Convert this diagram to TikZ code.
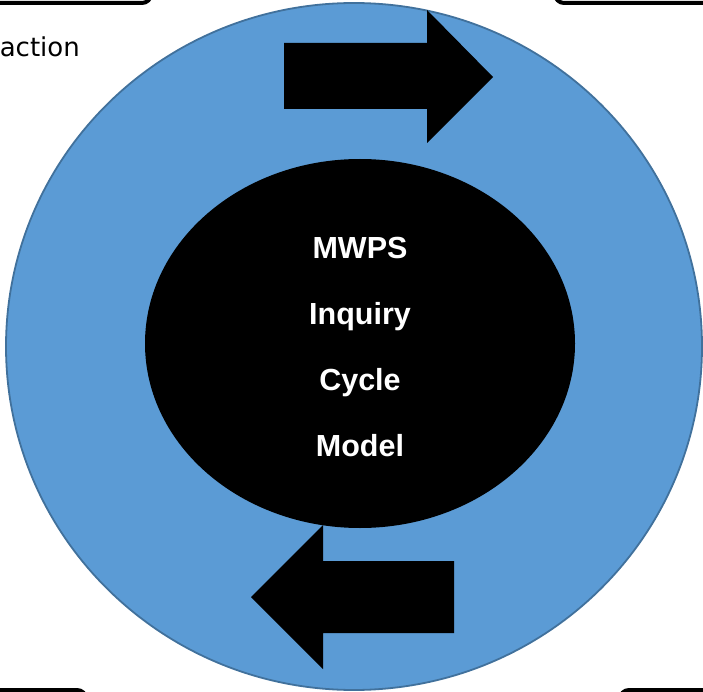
\documentclass[tikz,border=0pt]{standalone}
\usepackage{fontspec}
\setmainfont{Liberation Sans}
\newfontfamily\sidefont{DejaVu Sans}
\usepackage{xcolor}
\usetikzlibrary{shapes.geometric}

\definecolor{ringblue}{RGB}{91,155,213}
\definecolor{ringline}{RGB}{65,113,156}

\begin{document}
\begin{tikzpicture}[
  x=1pt, y=-1pt,
  ring/.style={ellipse, draw=ringline, fill=ringblue, line width=1.8pt, minimum width=696pt, minimum height=687pt, inner sep=0pt},
  core/.style={ellipse, fill=black, minimum width=430pt, minimum height=369pt, inner sep=0pt},
  coretext/.style={text=white, align=center, font=\bfseries\fontsize{30.5}{66}\selectfont},
  corner/.style={draw=black, fill=white, line width=4pt, rounded corners=9pt},
  blockarrow/.style={fill=black}
]
  \useasboundingbox (0,0) rectangle (703,692);

  % Corner boxes
  \draw[corner] (-60,-60) rectangle (151,3);
  \draw[corner] (555,-60) rectangle (760,3);
  \draw[corner] (-60,690) rectangle (86,760);
  \draw[corner] (620,690) rectangle (760,760);

  % Side text
  \node[anchor=base east, inner sep=0pt, font=\sidefont\fontsize{26}{30}\selectfont] (side) at (80,57) {action};

  % Cycle
  \node[ring] (cycle) at (354,346.5) {};
  \node[core] (model) at (360,343.5) {};
  \node[coretext] (title) at (360,346.5) {MWPS\\Inquiry\\Cycle\\Model};

  % Arrows
  \fill[blockarrow] (284,43) -- (427,43) -- (427,10) -- (493,77) -- (427,143) -- (427,109) -- (284,109) -- cycle;
  \fill[blockarrow] (454,561) -- (323,561) -- (323,525) -- (251,597) -- (323,669) -- (323,633) -- (454,633) -- cycle;
\end{tikzpicture}
\end{document}
